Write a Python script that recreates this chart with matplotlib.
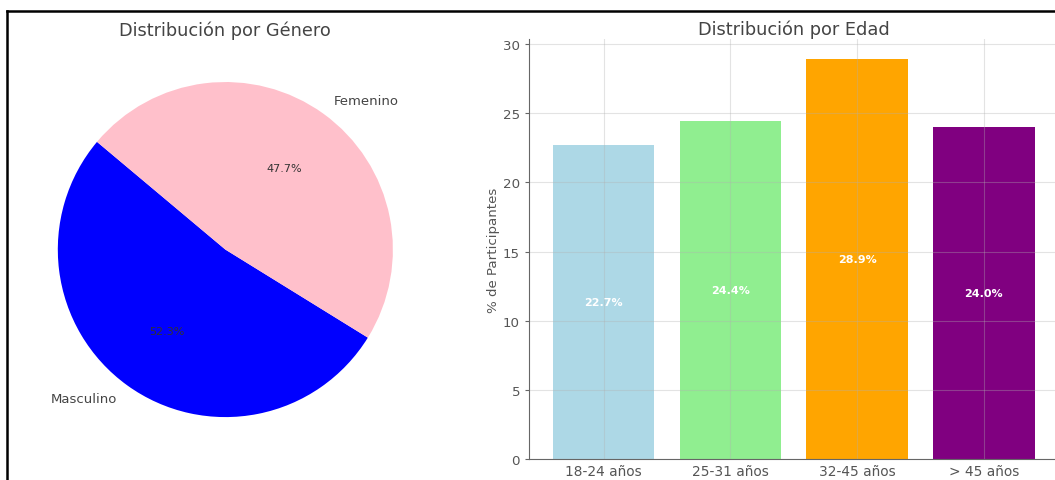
import matplotlib.pyplot as plt
from matplotlib.lines import Line2D

# gender split
generos = ['Masculino', 'Femenino']
pct_genero = [52.3, 47.7]
colores_genero = ['blue', 'pink']

# age groups
edades = ['18-24 años', '25-31 años', '32-45 años', '> 45 años']
pct_edad = [22.7, 24.4, 28.9, 24.0]
colores_edad = ['lightblue', 'lightgreen', 'orange', 'purple']

fig = plt.figure(figsize=(10.55, 4.81), dpi=100)

# pie on the left
ax1 = fig.add_axes([0.0151, 0.0436, 0.397, 0.871])
wedges, textos, autotextos = ax1.pie(
    pct_genero, labels=generos, colors=colores_genero,
    autopct='%1.1f%%', startangle=140,
    textprops={'color': '#444444', 'fontsize': 9.5})
for t in autotextos:
    t.set_color('#333333')
    t.set_fontsize(8)
ax1.set_aspect('equal')
ax1.set_title('Distribución por Género', fontsize=12.8, color='#444444',
              pad=4)

# bars on the right
ax2 = fig.add_axes([0.5014, 0.0437, 0.502, 0.8726])
barras = ax2.bar(edades, pct_edad, color=colores_edad, width=0.8)
for b, v in zip(barras, pct_edad):
    ax2.text(b.get_x() + b.get_width() / 2, v / 2, f'{v:.1f}%',
             ha='center', va='center', color='white',
             fontsize=8, fontweight='bold')
ax2.set_yticks([0, 5, 10, 15, 20, 25, 30])
ax2.grid(True, color='#b0b0b0', alpha=0.35, linewidth=0.8)
ax2.set_title('Distribución por Edad', fontsize=12.8, color='#444444', pad=4)
ax2.set_ylabel('% de Participantes', fontsize=9.6, color='#555555',
               labelpad=2)
for lado in ['top', 'right']:
    ax2.spines[lado].set_visible(False)
for lado in ['left', 'bottom']:
    ax2.spines[lado].set_color('#666666')
ax2.tick_params(axis='both', colors='#666666', labelcolor='#555555',
                labelsize=9.6, length=3)
ax2.tick_params(axis='x', length=0, labelsize=9.9)

# frame around the figure
fig.add_artist(Line2D([7 / 1055, 7 / 1055], [0, 1 - 12 / 481],
                      color='black', linewidth=1.8))
fig.add_artist(Line2D([7 / 1055, 1], [1 - 12 / 481, 1 - 12 / 481],
                      color='black', linewidth=1.8))

fig.savefig('out.png', dpi=100)
